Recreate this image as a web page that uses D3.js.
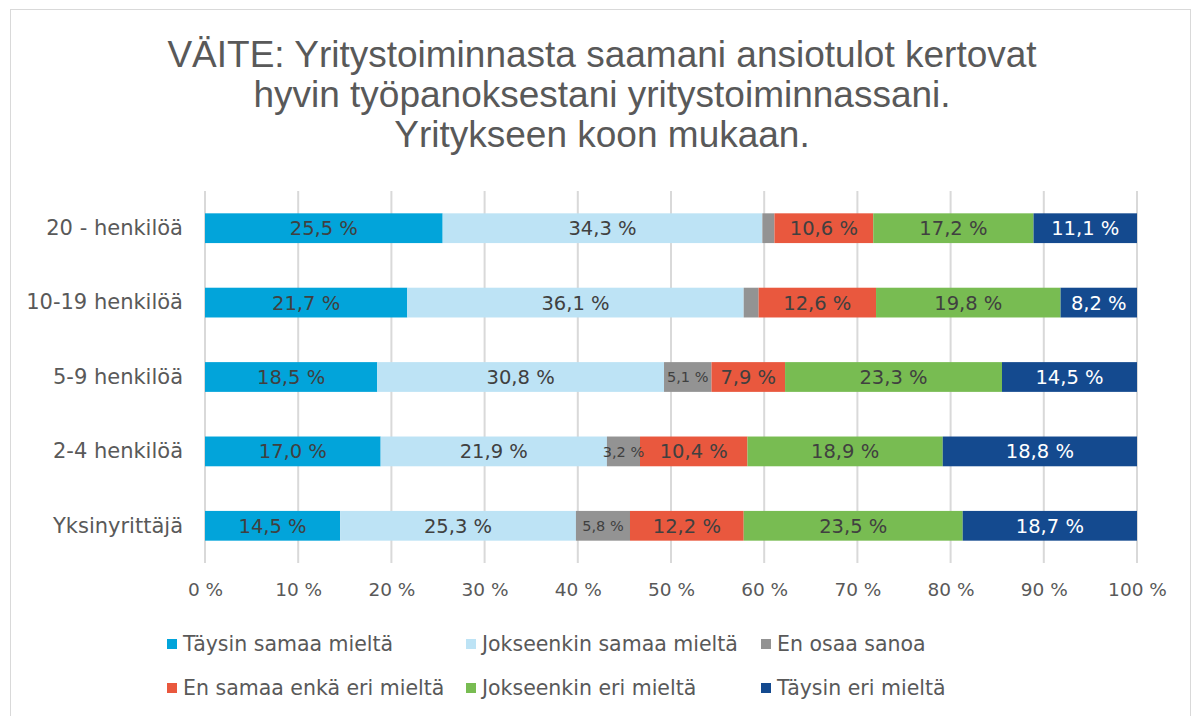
<!DOCTYPE html>
<html>
<head>
  <meta charset="utf-8">
  <title>VÄITE - yrityksen koon mukaan</title>
  <style>
    body { margin: 0; background: #fff; }
    svg { display: block; }
    text { font-family: "DejaVu Sans", sans-serif; }
    .title { font-family: "Liberation Sans", Arial, sans-serif; }
  </style>
</head>
<body>
  <div id="chart"></div>

  <script src="https://d3js.org/d3.v7.min.js"></script>
  <script>
    // Data (100 % stacked, Excel normalises each row)
    const categories = ["20 - henkilöä", "10-19 henkilöä", "5-9 henkilöä", "2-4 henkilöä", "Yksinyrittäjä"];
    const seriesNames = ["Täysin samaa mieltä", "Jokseenkin samaa mieltä", "En osaa sanoa",
                         "En samaa enkä eri mieltä", "Jokseenkin eri mieltä", "Täysin eri mieltä"];
    const taysinSamaa   = [25.5, 21.7, 18.5, 17.0, 14.5];
    const jokseenSamaa  = [34.3, 36.1, 30.8, 21.9, 25.3];
    const enOsaa        = [1.3, 1.6, 5.1, 3.2, 5.8];
    const enSamaaEnkaEri = [10.6, 12.6, 7.9, 10.4, 12.2];
    const jokseenEri    = [17.2, 19.8, 23.3, 18.9, 23.5];
    const taysinEri     = [11.1, 8.2, 14.5, 18.8, 18.7];
    const xTicks = [0, 10, 20, 30, 40, 50, 60, 70, 80, 90, 100];

    const colors = ["#02a4da", "#bde3f5", "#939393", "#e9583e", "#78bc52", "#144a8f"];
    const seriesValues = [taysinSamaa, jokseenSamaa, enOsaa, enSamaaEnkaEri, jokseenEri, taysinEri];

    const rows = categories.map((c, i) => {
      const r = { cat: c };
      seriesNames.forEach((s, j) => r[s] = seriesValues[j][i]);
      return r;
    });

    const width = 1200, height = 716;
    const svg = d3.select("#chart").append("svg")
      .attr("width", width)
      .attr("height", height);

    // outer chart border
    svg.append("rect")
      .attr("x", 10.5).attr("y", 9.5)
      .attr("width", 1180).attr("height", 720)
      .attr("fill", "#fff")
      .attr("stroke", "#d9d9d9");

    // title
    const titleLines = ["VÄITE: Yritystoiminnasta saamani ansiotulot kertovat",
                        "hyvin työpanoksestani yritystoiminnassani.",
                        "Yritykseen koon mukaan."];
    svg.append("text")
      .attr("class", "title")
      .attr("x", 602).attr("y", 67)
      .attr("text-anchor", "middle")
      .attr("font-size", 37)
      .attr("fill", "#595959")
      .selectAll("tspan")
      .data(titleLines)
      .join("tspan")
      .attr("x", 602)
      .attr("dy", (d, i) => i === 0 ? 0 : 40)
      .text(d => d);

    const x = d3.scaleLinear().domain([0, 1]).range([205, 1137]);
    const y = d3.scaleBand().domain(categories).range([191, 563])
      .paddingInner(0.6).paddingOuter(0.3);

    // gridlines
    svg.append("g")
      .selectAll("line")
      .data(xTicks)
      .join("line")
      .attr("x1", d => x(d / 100)).attr("x2", d => x(d / 100))
      .attr("y1", 191).attr("y2", 563)
      .attr("stroke", "#d9d9d9")
      .attr("stroke-width", 2);

    // x axis labels
    const xAxis = svg.append("g")
      .attr("transform", "translate(0,563)")
      .call(d3.axisBottom(x).tickValues(xTicks.map(d => d / 100))
        .tickFormat(d => Math.round(d * 100) + " %").tickSize(0).tickPadding(20));
    xAxis.select(".domain").remove();
    xAxis.selectAll("text")
      .attr("font-size", 18.5)
      .attr("fill", "#595959")
      .style("font-family", '"DejaVu Sans", sans-serif');

    // category labels
    const yAxis = svg.append("g")
      .attr("transform", "translate(205,0)")
      .call(d3.axisLeft(y).tickSize(0).tickPadding(22));
    yAxis.select(".domain").remove();
    yAxis.selectAll("text")
      .attr("font-size", 21)
      .attr("fill", "#595959")
      .style("font-family", '"DejaVu Sans", sans-serif');

    // stacked bars
    const stack = d3.stack().keys(seriesNames).offset(d3.stackOffsetExpand);
    const stacked = stack(rows);

    const layers = svg.append("g")
      .selectAll("g")
      .data(stacked)
      .join("g")
      .attr("fill", (d, i) => colors[i]);

    layers.selectAll("rect")
      .data(d => d)
      .join("rect")
      .attr("x", d => x(d[0]))
      .attr("y", d => y(d.data.cat))
      .attr("width", d => x(d[1]) - x(d[0]))
      .attr("height", y.bandwidth());

    // data labels
    const fmt = v => v.toFixed(1).replace(".", ",") + " %";
    stacked.forEach((layer, i) => {
      svg.append("g")
        .selectAll("text")
        .data(layer.filter(d => d.data[layer.key] >= 2))
        .join("text")
        .attr("x", d => (x(d[0]) + x(d[1])) / 2)
        .attr("y", d => y(d.data.cat) + y.bandwidth() / 2)
        .attr("dy", "0.36em")
        .attr("text-anchor", "middle")
        .attr("font-size", i === 2 ? 14.5 : 19.5)
        .attr("fill", i === 5 ? "#ffffff" : "#404040")
        .text(d => fmt(d.data[layer.key]));
    });

    // legend
    const legendPos = [
      [167, 644], [466, 644], [761, 644],
      [167, 688], [466, 688], [761, 688]
    ];
    const legend = svg.append("g")
      .selectAll("g")
      .data(seriesNames)
      .join("g")
      .attr("transform", (d, i) => `translate(${legendPos[i][0]},${legendPos[i][1]})`);
    legend.append("rect")
      .attr("x", 0).attr("y", -5)
      .attr("width", 10).attr("height", 10)
      .attr("fill", (d, i) => colors[i]);
    legend.append("text")
      .attr("x", 16).attr("dy", "0.36em")
      .attr("font-size", 20.5)
      .attr("fill", "#595959")
      .text(d => d);
  </script>
</body>
</html>
